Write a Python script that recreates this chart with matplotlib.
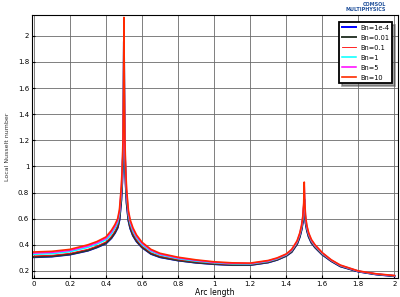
import matplotlib
matplotlib.use("Agg")
import matplotlib.pyplot as plt
from matplotlib.ticker import FormatStrFormatter, MultipleLocator

# Arc length positions (denser around the two peaks)
arc = [0, 0.1, 0.2, 0.3, 0.35, 0.4, 0.43, 0.45, 0.465, 0.475,
       0.485, 0.49, 0.495, 0.498, 0.5, 0.502, 0.505, 0.51, 0.515, 0.525,
       0.535, 0.55, 0.57, 0.6, 0.65, 0.7, 0.8, 0.9, 1.0, 1.1,
       1.2, 1.3, 1.35, 1.4, 1.43, 1.46, 1.475, 1.485, 1.492, 1.497,
       1.5, 1.503, 1.508, 1.515, 1.525, 1.54, 1.56, 1.6, 1.65, 1.7,
       1.8, 1.9, 2.0]

bn_1e4 = [0.305, 0.31, 0.325, 0.355, 0.38, 0.41, 0.45, 0.49, 0.53, 0.59,
          0.74, 0.87, 1.08, 1.43, 1.95, 1.43, 1.08, 0.86, 0.72, 0.585,
          0.525, 0.47, 0.425, 0.38, 0.33, 0.305, 0.28, 0.263, 0.252, 0.245,
          0.245, 0.265, 0.285, 0.315, 0.345, 0.405, 0.46, 0.515, 0.575, 0.645,
          0.74, 0.645, 0.565, 0.51, 0.46, 0.415, 0.38, 0.325, 0.275, 0.235,
          0.195, 0.173, 0.16]
bn_001 = [0.307, 0.312, 0.327, 0.357, 0.382, 0.413, 0.453, 0.493, 0.534, 0.594,
          0.745, 0.876, 1.09, 1.44, 1.96, 1.44, 1.09, 0.866, 0.725, 0.589,
          0.529, 0.473, 0.428, 0.382, 0.332, 0.307, 0.281, 0.264, 0.253, 0.246,
          0.246, 0.266, 0.286, 0.316, 0.346, 0.406, 0.462, 0.517, 0.578, 0.649,
          0.75, 0.649, 0.568, 0.512, 0.462, 0.417, 0.381, 0.326, 0.276, 0.236,
          0.196, 0.174, 0.161]
bn_01 = [0.315, 0.32, 0.335, 0.366, 0.391, 0.423, 0.465, 0.506, 0.548, 0.61,
         0.765, 0.90, 1.115, 1.47, 2.0, 1.47, 1.115, 0.89, 0.745, 0.604,
         0.541, 0.485, 0.438, 0.39, 0.339, 0.313, 0.286, 0.269, 0.257, 0.249,
         0.249, 0.269, 0.289, 0.319, 0.35, 0.411, 0.468, 0.524, 0.586, 0.664,
         0.775, 0.664, 0.576, 0.519, 0.468, 0.421, 0.385, 0.329, 0.278, 0.238,
         0.196, 0.174, 0.161]
bn_1 = [0.327, 0.332, 0.347, 0.38, 0.405, 0.438, 0.483, 0.526, 0.569, 0.634,
        0.795, 0.93, 1.155, 1.52, 2.055, 1.52, 1.155, 0.92, 0.775, 0.626,
        0.561, 0.503, 0.453, 0.402, 0.349, 0.322, 0.294, 0.275, 0.262, 0.254,
        0.253, 0.273, 0.293, 0.323, 0.356, 0.419, 0.477, 0.534, 0.6, 0.686,
        0.817, 0.686, 0.59, 0.529, 0.477, 0.429, 0.391, 0.333, 0.281, 0.241,
        0.198, 0.176, 0.163]
bn_5 = [0.337, 0.342, 0.357, 0.391, 0.416, 0.45, 0.498, 0.542, 0.586, 0.654,
        0.82, 0.956, 1.19, 1.56, 2.102, 1.56, 1.19, 0.946, 0.80, 0.645,
        0.577, 0.518, 0.465, 0.412, 0.358, 0.329, 0.3, 0.281, 0.266, 0.259,
        0.257, 0.277, 0.297, 0.327, 0.361, 0.425, 0.484, 0.543, 0.611, 0.705,
        0.852, 0.705, 0.601, 0.538, 0.484, 0.435, 0.396, 0.337, 0.283, 0.243,
        0.199, 0.177, 0.164]
bn_10 = [0.345, 0.35, 0.365, 0.40, 0.425, 0.46, 0.51, 0.555, 0.60, 0.67,
         0.84, 0.98, 1.22, 1.6, 2.14, 1.6, 1.22, 0.97, 0.82, 0.66,
         0.59, 0.53, 0.475, 0.42, 0.365, 0.335, 0.305, 0.285, 0.27, 0.262,
         0.26, 0.28, 0.30, 0.33, 0.365, 0.43, 0.49, 0.55, 0.62, 0.72,
         0.88, 0.72, 0.61, 0.545, 0.49, 0.44, 0.40, 0.34, 0.285, 0.245,
         0.20, 0.178, 0.165]

series = [
    ("Bn=1e-4", bn_1e4, "#0000ff", 1.4),
    ("Bn=0.01", bn_001, "#2e3a2e", 1.4),
    ("Bn=0.1", bn_01, "#ff0000", 0.6),
    ("Bn=1", bn_1, "#00ffff", 1.1),
    ("Bn=5", bn_5, "#ff00ff", 1.1),
    ("Bn=10", bn_10, "#ff2a00", 1.2),
]

fig = plt.figure(figsize=(4.0, 2.97), dpi=100)
ax = fig.add_axes([0.08, 0.064, 0.915, 0.886])

for label, ys, col, lw in series:
    ax.plot(arc, ys, color=col, lw=lw, label=label)

ax.set_xlim(-0.01, 2.02)
ax.set_ylim(0.146, 2.16)
ax.xaxis.set_major_locator(MultipleLocator(0.2))
ax.yaxis.set_major_locator(MultipleLocator(0.2))
ax.xaxis.set_major_formatter(FormatStrFormatter("%g"))
ax.yaxis.set_major_formatter(FormatStrFormatter("%g"))
ax.tick_params(labelsize=5, length=2, direction="in", pad=2)
ax.grid(True, color="#6a6a6a", lw=0.6)
for sp in ax.spines.values():
    sp.set_linewidth(0.8)

ax.set_xlabel("Arc length", fontsize=5.5, labelpad=1)
ax.set_ylabel("Local Nusselt number", fontsize=4.5, labelpad=6, color="#333333")

leg = ax.legend(loc="upper right", bbox_to_anchor=(0.984, 0.973), borderaxespad=0,
                fontsize=4.8, handlelength=2.2, handletextpad=0.6, fancybox=False,
                shadow=True, framealpha=1, edgecolor="black", labelspacing=0.6)
leg.get_frame().set_linewidth(1.3)

fig.text(0.965, 0.993, "COMSOL\nMULTIPHYSICS", fontsize=3.5, color="#1f4f9a",
         ha="right", va="top", fontweight="bold", linespacing=0.9)

fig.savefig("out.png", dpi=100)
